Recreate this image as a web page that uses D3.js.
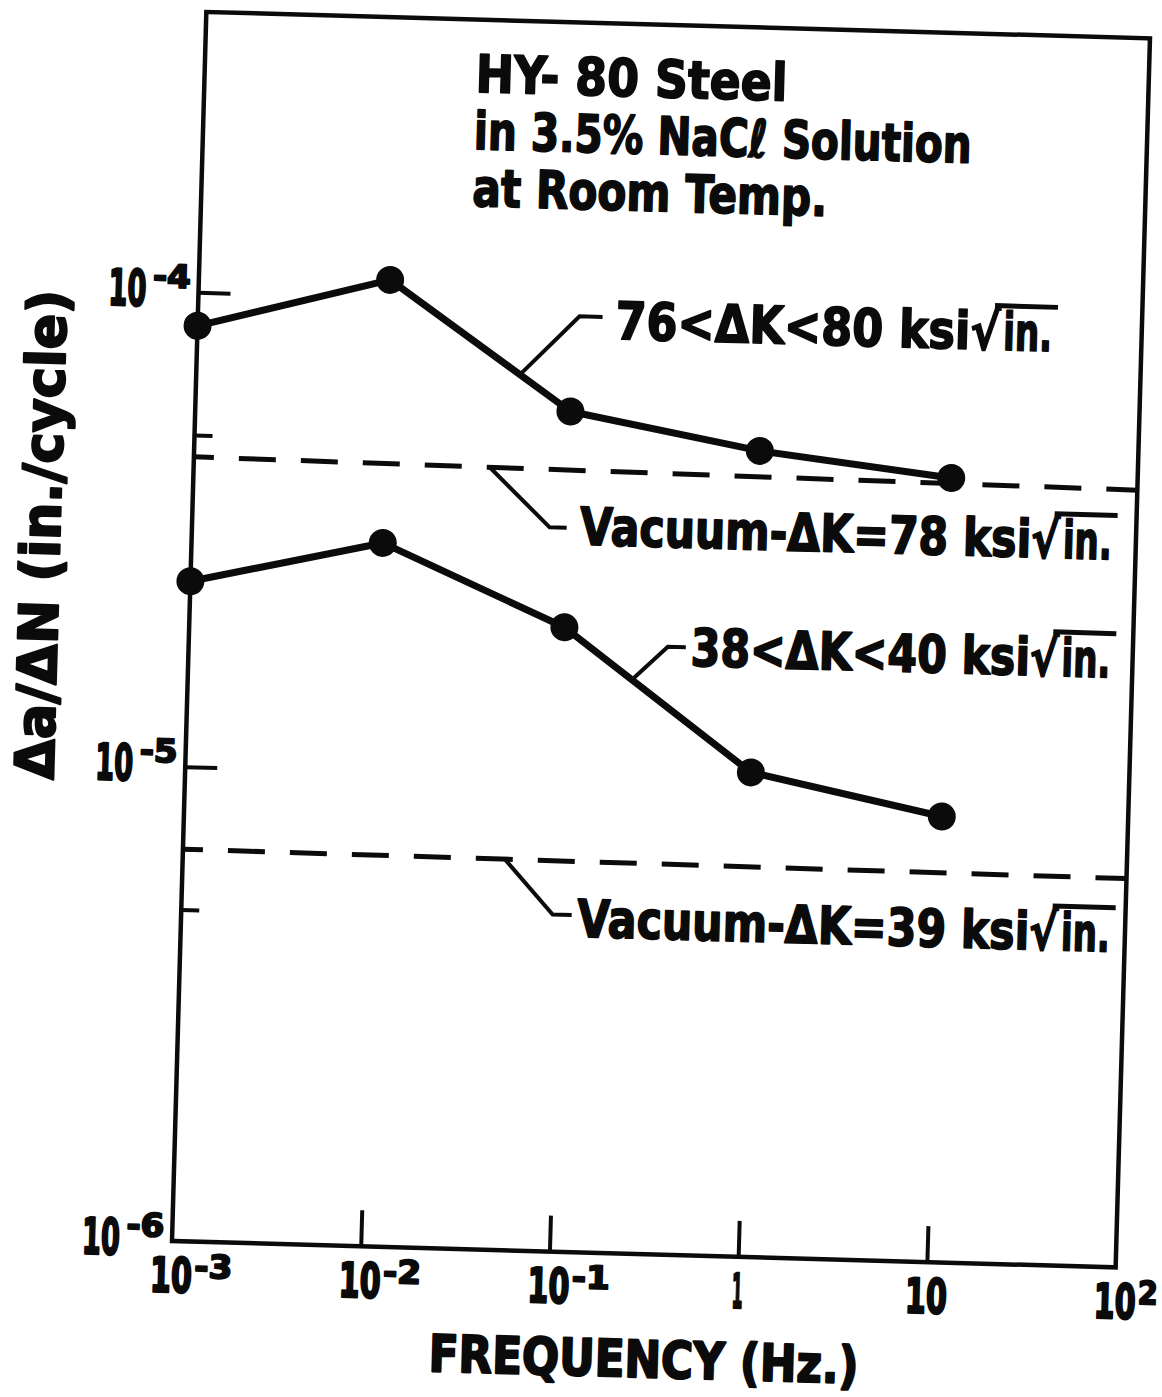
<!DOCTYPE html>
<html>
<head>
<meta charset="utf-8">
<script src="https://cdn.jsdelivr.net/npm/d3@7"></script>
<style>
  html, body { margin: 0; padding: 0; background: #fff; }
  svg { display: block; }
</style>
</head>
<body>
<svg id="chart" width="1162" height="1397"></svg>
<script>
// Test frequencies (Hz)
const frequency = [0.001, 0.0103, 0.097, 0.99, 10.3];
// Fatigue crack growth rate da/dN (in./cycle) for 76 < ΔK < 80 ksi√in.
const rateHighDK = [8.5e-5, 1.09e-4, 5.9e-5, 5.0e-5, 4.5e-5];
// Fatigue crack growth rate da/dN (in./cycle) for 38 < ΔK < 40 ksi√in.
const rateLowDK = [2.46e-5, 3.04e-5, 2.07e-5, 1.05e-5, 8.7e-6];
// Vacuum reference rates, drawn across the whole frequency range
const vacuumFrequency = [1e-3, 1e2];
const vacuumHighDK = [4.5e-5, 4.35e-5];
const vacuumLowDK = [6.7e-6, 6.6e-6];
// Axis ticks and their labels (base + superscript exponent)
const xTicks = [1e-3, 1e-2, 1e-1, 1, 10, 100];
const xTickBase = ["10", "10", "10", "1", "10", "10"];
const xTickExp = ["-3", "-2", "-1", "", "", "2"];
const yTicks = [1e-6, 1e-5, 1e-4];
const yTickBase = ["10", "10", "10"];
const yTickExp = ["-6", "-5", "-4"];
const yMinorTicks = [5e-6, 5e-5];
// Text
const titleLines = ["HY- 80 Steel", "in 3.5% NaCℓ Solution", "at Room Temp."];
const seriesLabels = ["76<ΔK<80 ksi√", "38<ΔK<40 ksi√"];
const vacuumLabels = ["Vacuum-ΔK=78 ksi√", "Vacuum-ΔK=39 ksi√"];
const xTitle = "FREQUENCY (Hz.)";
const yTitle = "Δa/ΔN (in./cycle)";

// ---- layout ----
const marginLeft = 172, marginTop = 11.5, W = 944, H = 1229.5;
const tilt = 1.6;               // the whole figure sits slightly rotated
const FONT = "'DejaVu Sans', sans-serif";
const INK = "#0b0b0b";

const svg = d3.select("#chart");
svg.append("rect").attr("width", 1162).attr("height", 1397).attr("fill", "#fff");

const page = svg.append("g").attr("transform", `rotate(${tilt},${marginLeft},${marginTop + H})`);
const g = page.append("g").attr("transform", `translate(${marginLeft},${marginTop})`);

const x = d3.scaleLog().domain([1e-3, 1e2]).range([0, W]);
const y = d3.scaleLog().domain([1e-6, Math.pow(10, -3.409)]).range([H, 0]);

// Heavy, narrow lettering: bold face squeezed horizontally to a set width,
// with a thin outline of the same ink.
function txt(parent, s, px, py, size, width, anchor, weight, rot) {
  const holder = parent.append("g");
  const t = holder.append("text")
    .attr("font-family", FONT).attr("font-weight", "bold")
    .attr("font-size", size).attr("fill", INK)
    .attr("stroke", INK).attr("stroke-width", weight == null ? 1.8 : weight)
    .attr("stroke-linejoin", "round")
    .text(s);
  const natural = t.node().getComputedTextLength();
  const k = width ? width / natural : 1;
  const w = natural * k;
  const shift = anchor === "middle" ? -w / 2 : anchor === "end" ? -w : 0;
  holder.attr("transform", `translate(${px},${py})` + (rot ? ` rotate(${rot})` : "") +
    ` translate(${shift},0) scale(${k},1)`);
  return holder;
}

// ---- frame ----
g.append("rect").attr("x", 0).attr("y", 0).attr("width", W).attr("height", H)
  .attr("fill", "none").attr("stroke", INK).attr("stroke-width", 4.5);

// ---- ticks (inward) ----
const styleAxis = sel => {
  sel.select(".domain").remove();
  sel.selectAll(".tick line").attr("stroke", INK).attr("stroke-width", 4);
  sel.selectAll(".tick text").remove();
};
g.append("g").attr("transform", `translate(0,${H})`)
  .call(d3.axisBottom(x).tickValues(xTicks.slice(1, -1)).tickSize(-36).tickFormat(() => ""))
  .call(styleAxis);
g.append("g")
  .call(d3.axisLeft(y).tickValues(yTicks.slice(1)).tickSize(-32).tickFormat(() => ""))
  .call(styleAxis);
g.append("g")
  .call(d3.axisLeft(y).tickValues(yMinorTicks).tickSize(-18).tickFormat(() => ""))
  .call(styleAxis);

// ---- tick labels ----
xTicks.forEach((t, i) => {
  const cx = x(t);
  const isOne = xTickBase[i] === "1";
  txt(g, xTickBase[i], cx, H + 51, 48, isOne ? 11 : 42, "middle", 2.5);
  if (xTickExp[i]) txt(g, xTickExp[i], cx + 23, H + 36, 32, xTickExp[i].length > 1 ? 38 : 20, "start", 2);
});
yTicks.forEach((t, i) => {
  const cy = y(t);
  txt(g, yTickBase[i], -52, cy + 15, 50, 38, "end", 2.5);
  txt(g, yTickExp[i], -8, cy - 4, 32, 38, "end", 2);
});

// ---- axis titles ----
txt(g, xTitle, 474.8, H + 123, 51, 430, "middle", 2.2);
txt(g, yTitle, -131.7, 527, 54, 490, "middle", 2.2, -90);

// ---- title block ----
const titleWidths = [312, 498, 355];
titleLines.forEach((s, i) => txt(g, s, 271, 72.5 + i * 57, 52, titleWidths[i], "start"));

// ---- vacuum reference lines ----
const line = d3.line().x(d => x(d[0])).y(d => y(d[1]));
[vacuumHighDK, vacuumLowDK].forEach(vals => {
  g.append("path")
    .attr("d", line(vacuumFrequency.map((f, i) => [f, vals[i]])))
    .attr("fill", "none").attr("stroke", INK).attr("stroke-width", 5)
    .attr("stroke-dasharray", "37,25").attr("stroke-dashoffset", 17);
});

// ---- data series ----
[rateHighDK, rateLowDK].forEach(vals => {
  const pts = frequency.map((f, i) => [f, vals[i]]);
  g.append("path").attr("d", line(pts))
    .attr("fill", "none").attr("stroke", INK).attr("stroke-width", 7)
    .attr("stroke-linejoin", "round").attr("stroke-linecap", "round");
  g.selectAll(null).data(pts).enter().append("circle")
    .attr("cx", d => x(d[0])).attr("cy", d => y(d[1])).attr("r", 14).attr("fill", INK);
});

// ---- leaders and labels ----
const px = (f, r) => [x(f), y(r)];
const lerp = (a, b, t) => [a[0] + (b[0] - a[0]) * t, a[1] + (b[1] - a[1]) * t];
function leader(a, d1, d2) {
  const b = [a[0] + d1[0], a[1] + d1[1]];
  const c = [b[0] + d2, b[1]];
  g.append("path").attr("d", d3.line()([a, b, c]))
    .attr("fill", "none").attr("stroke", INK).attr("stroke-width", 4)
    .attr("stroke-linejoin", "miter");
}
// Label ending in ksi√in. with the radical's bar drawn over "in."
function radicalLabel(prefix, x0, base, prefixW, totalW) {
  txt(g, prefix, x0, base, 52, prefixW, "start");
  txt(g, "in.", x0 + prefixW + 3, base, 52, totalW - prefixW - 3, "start");
  g.append("line")
    .attr("x1", x0 + prefixW - 6).attr("x2", x0 + totalW + 5)
    .attr("y1", base - 44).attr("y2", base - 44)
    .attr("stroke", INK).attr("stroke-width", 5);
}
function vacuumAt(atX, vals) {
  const t = atX / W;
  const lv = Math.log10(vals[0]) + t * (Math.log10(vals[1]) - Math.log10(vals[0]));
  return [atX, y(Math.pow(10, lv))];
}

// 76 < ΔK < 80
leader(lerp(px(frequency[1], rateHighDK[1]), px(frequency[2], rateHighDK[2]), 0.72), [58, -60], 23);
radicalLabel(seriesLabels[0], 417.6, 315.5, 385, 437);
// vacuum, ΔK = 78
leader(vacuumAt(296, vacuumHighDK), [61.6, 58.4], 17);
radicalLabel(vacuumLabels[0], 388, 522, 480, 532);
// 38 < ΔK < 40
leader(lerp(px(frequency[2], rateLowDK[2]), px(frequency[3], rateLowDK[3]), 0.362), [35, -34], 18);
radicalLabel(seriesLabels[1], 502, 640, 368, 420);
// vacuum, ΔK = 39
leader(vacuumAt(322, vacuumLowDK), [49.4, 54], 19);
radicalLabel(vacuumLabels[1], 396, 914, 481, 533);
</script>
</body>
</html>
